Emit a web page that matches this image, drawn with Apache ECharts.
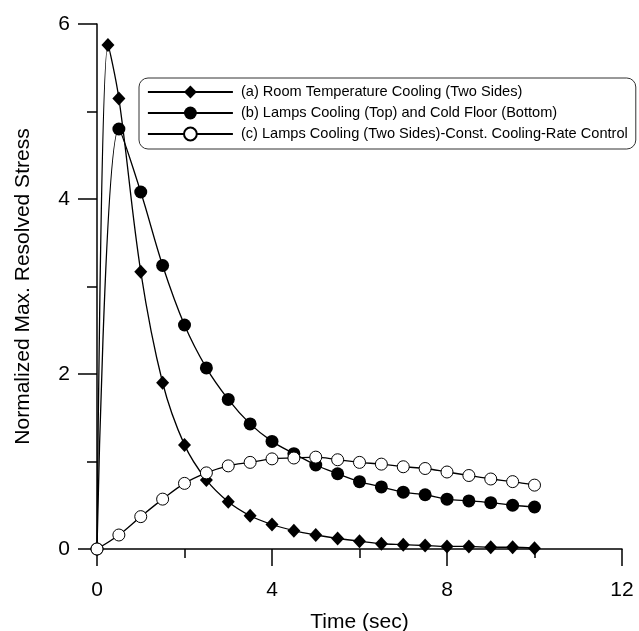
<!DOCTYPE html>
<html><head><meta charset="utf-8">
<script src="https://cdn.jsdelivr.net/npm/echarts@6/dist/echarts.min.js"></script>
<style>html,body{margin:0;padding:0;background:#fff}#c{width:639px;height:631px}</style>
</head><body><div id="c"></div>
<script>
const seriesNames = [
  '(a) Room Temperature Cooling (Two Sides)',
  '(b) Lamps Cooling (Top) and Cold Floor (Bottom)',
  '(c) Lamps Cooling (Two Sides)-Const. Cooling-Rate Control'
];
const timeA = [0, 0.25, 0.5, 1, 1.5, 2, 2.5, 3, 3.5, 4, 4.5, 5, 5.5, 6, 6.5, 7, 7.5, 8, 8.5, 9, 9.5, 10];
const stressA = [0, 5.76, 5.15, 3.17, 1.90, 1.19, 0.79, 0.54, 0.38, 0.28, 0.21, 0.16, 0.12, 0.09, 0.06, 0.05, 0.04, 0.03, 0.03, 0.02, 0.02, 0.01];
const timeBC = [0, 0.5, 1, 1.5, 2, 2.5, 3, 3.5, 4, 4.5, 5, 5.5, 6, 6.5, 7, 7.5, 8, 8.5, 9, 9.5, 10];
const stressB = [0, 4.80, 4.08, 3.24, 2.56, 2.07, 1.71, 1.43, 1.23, 1.09, 0.96, 0.86, 0.77, 0.71, 0.65, 0.62, 0.57, 0.55, 0.53, 0.50, 0.48];
const stressC = [0, 0.16, 0.37, 0.57, 0.75, 0.87, 0.95, 0.99, 1.03, 1.04, 1.05, 1.02, 0.99, 0.97, 0.94, 0.92, 0.88, 0.84, 0.80, 0.77, 0.73];
const xTicks = [0, 4, 8, 12];
const yTicks = [0, 2, 4, 6];

const font = 'Liberation Sans, Arial, sans-serif';
const zip = (xs, ys) => xs.map((x, i) => [x, ys[i]]);

const chart = echarts.init(document.getElementById('c'));
chart.setOption({
  backgroundColor: '#fff',
  animation: false,
  grid: { left: 97, right: 17, top: 24, bottom: 82, containLabel: false, outerBoundsMode: 'none' },
  legend: {
    orient: 'vertical', left: 139, top: 78,
    padding: [6, 8, 7, 8], itemGap: 5, itemWidth: 85, itemHeight: 16,
    borderColor: '#333', borderWidth: 1, borderRadius: 9,
    lineStyle: { width: 1.8 },
    textStyle: { fontFamily: font, fontSize: 14.6, color: '#000', padding: [0, 0, 0, 3], lineHeight: 16 },
    data: seriesNames
  },
  xAxis: {
    type: 'value', min: xTicks[0], max: xTicks[xTicks.length - 1], interval: 4,
    name: 'Time (sec)', nameLocation: 'middle', nameGap: 63,
    nameTextStyle: { fontFamily: font, fontSize: 21, color: '#000' },
    axisLine: { onZero: false, lineStyle: { color: '#000', width: 1.5 } },
    axisTick: { inside: false, length: 17, lineStyle: { color: '#000', width: 1.5 } },
    minorTick: { show: true, splitNumber: 2, length: 9, lineStyle: { color: '#000', width: 1.5 } },
    axisLabel: { fontFamily: font, fontSize: 21, color: '#000', margin: 31 },
    splitLine: { show: false }
  },
  yAxis: {
    type: 'value', min: yTicks[0], max: yTicks[yTicks.length - 1], interval: 2,
    name: 'Normalized Max. Resolved Stress', nameLocation: 'middle', nameGap: 63,
    nameTextStyle: { fontFamily: font, fontSize: 21, color: '#000' },
    axisLine: { onZero: false, lineStyle: { color: '#000', width: 1.5 } },
    axisTick: { inside: false, length: 19, lineStyle: { color: '#000', width: 1.5 } },
    minorTick: { show: true, splitNumber: 2, length: 10, lineStyle: { color: '#000', width: 1.5 } },
    axisLabel: { fontFamily: font, fontSize: 21, color: '#000', margin: 27 },
    splitLine: { show: false }
  },
  series: [
    {
      name: seriesNames[0], type: 'line', data: zip(timeA, stressA),
      smooth: 0.35, symbol: 'diamond', symbolSize: [13, 14],
      lineStyle: { color: '#000', width: 1.3 },
      itemStyle: { color: '#000' }, z: 3
    },
    {
      name: seriesNames[1], type: 'line', data: zip(timeBC, stressB),
      smooth: 0.35, symbol: 'circle', symbolSize: 13,
      lineStyle: { color: '#000', width: 1.3 },
      itemStyle: { color: '#000' }, z: 2
    },
    {
      name: seriesNames[2], type: 'line', data: zip(timeBC, stressC),
      smooth: 0.35, symbol: 'circle', symbolSize: 12,
      lineStyle: { color: '#000', width: 1.3 },
      itemStyle: { color: '#fff', borderColor: '#000', borderWidth: 1 }, z: 4
    }
  ]
});
</script></body></html>
